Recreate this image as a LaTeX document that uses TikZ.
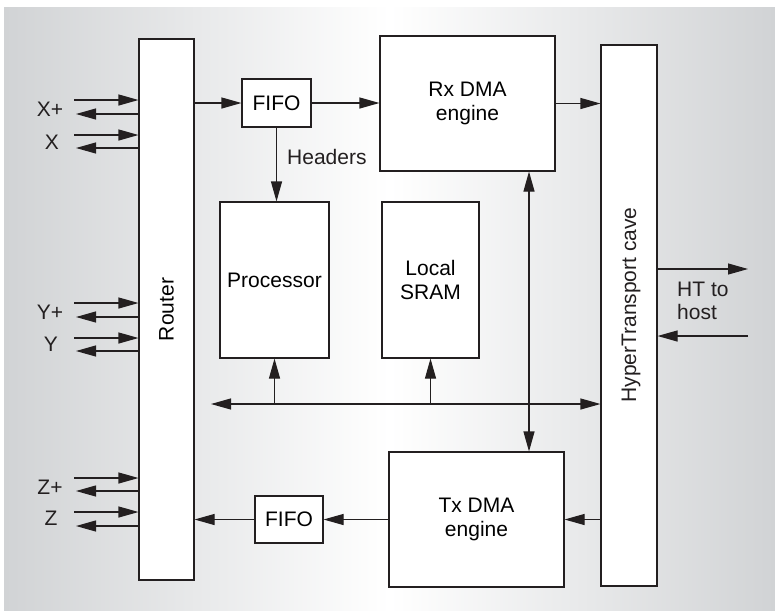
\documentclass[tikz,border=0pt]{standalone}
\usepackage{fontspec}
\setmainfont{Liberation Sans}
\usetikzlibrary{arrows.meta}
\definecolor{ink}{HTML}{231F20}
\definecolor{bgedge}{RGB}{209,211,213}
\tikzset{
  box/.style={draw=ink, line width=1.1pt, fill=white, rectangle, inner sep=0pt, align=center, font=\fontsize{21}{23.5}\selectfont},
  lbl/.style={inner sep=0pt, align=center, text=ink, font=\fontsize{21}{23.5}\selectfont},
  arr/.style={draw=ink, line width=1.1pt, -{Triangle[length=20pt,width=11pt]}},
  biarr/.style={draw=ink, line width=1.1pt, {Triangle[length=20pt,width=11pt]}-{Triangle[length=20pt,width=11pt]}}
}
\begin{document}
\begin{tikzpicture}[x=1pt,y=-1pt]
\useasboundingbox (0,0) rectangle (775,611);
\shade[left color=bgedge, right color=bgedge, middle color=white] (4,7) rectangle (775,610);

% blocks
\node[box, minimum width=55pt, minimum height=541pt] (router) at (166.5,309.5) {\rotatebox{90}{Router}};
\node[box, minimum width=69pt, minimum height=48pt] (fifo1) at (276.5,103) {FIFO};
\node[box, minimum width=175pt, minimum height=135pt] (rx) at (467.5,103.5) {Rx DMA\\engine};
\node[box, minimum width=56pt, minimum height=541pt] (ht) at (629,315.5) {};
\node[lbl, rotate=90] (htl) at (631,305) {HyperTransport cave};
\node[box, minimum width=109pt, minimum height=156pt] (proc) at (274.5,280) {Processor};
\node[box, minimum width=97pt, minimum height=156pt] (sram) at (430.5,280) {Local\\SRAM};
\node[box, minimum width=175pt, minimum height=135pt] (tx) at (476.5,519.5) {Tx DMA\\engine};
\node[box, minimum width=68pt, minimum height=47pt] (fifo2) at (289,519.5) {FIFO};

% port labels
\node[lbl] (lxp) at (50,109) {X+};
\node[lbl] (lx) at (52,142) {X};
\node[lbl] (lyp) at (50,312) {Y+};
\node[lbl] (ly) at (51,344) {Y};
\node[lbl] (lzp) at (50,487) {Z+};
\node[lbl] (lz) at (51,518) {Z};
\node[lbl, anchor=west] (hdr) at (287,157) {Headers};
\node[lbl, align=left, anchor=west] (host) at (677,301) {HT to\\host};

% free ends
\coordinate (xa) at (74,100); \coordinate (xb) at (76,114);
\coordinate (xc) at (74,135); \coordinate (xd) at (76,148);
\coordinate (ya) at (74,303); \coordinate (yb) at (76,317);
\coordinate (yc) at (74,338); \coordinate (yd) at (76,351);
\coordinate (za) at (74,478); \coordinate (zb) at (76,491);
\coordinate (zc) at (74,512); \coordinate (zd) at (76,526);
\coordinate (busl) at (211,404);
\coordinate (vx) at (529,0);
\coordinate (hout) at (748,269);
\coordinate (hin) at (748,336);

% router ports
\draw[arr] (xa) -- (xa -| router.west);
\draw[arr] (xb -| router.west) -- (xb);
\draw[arr] (xc) -- (xc -| router.west);
\draw[arr] (xd -| router.west) -- (xd);
\draw[arr] (ya) -- (ya -| router.west);
\draw[arr] (yb -| router.west) -- (yb);
\draw[arr] (yc) -- (yc -| router.west);
\draw[arr] (yd -| router.west) -- (yd);
\draw[arr] (za) -- (za -| router.west);
\draw[arr] (zb -| router.west) -- (zb);
\draw[arr] (zc) -- (zc -| router.west);
\draw[arr] (zd -| router.west) -- (zd);

% data path
\draw[arr] (router.east |- fifo1.west) -- (fifo1.west);
\draw[arr] (fifo1.east) -- (rx.west |- fifo1.east);
\draw[arr] (rx.east) -- (rx.east -| ht.west);
\draw[arr] (fifo1.south) -- (fifo1.south |- proc.north);
\draw[biarr] (busl) -- (busl -| ht.west);
\draw[arr] (proc.south |- busl) -- (proc.south);
\draw[arr] (sram.south |- busl) -- (sram.south);
\draw[biarr] (rx.south -| vx) -- (tx.north -| vx);
\draw[arr] (ht.west |- tx.east) -- (tx.east);
\draw[arr] (tx.west) -- (fifo2.east);
\draw[arr] (fifo2.west) -- (fifo2.west -| router.east);
\draw[arr] (hout -| ht.east) -- (hout);
\draw[arr] (hin) -- (hin -| ht.east);
\end{tikzpicture}
\end{document}
